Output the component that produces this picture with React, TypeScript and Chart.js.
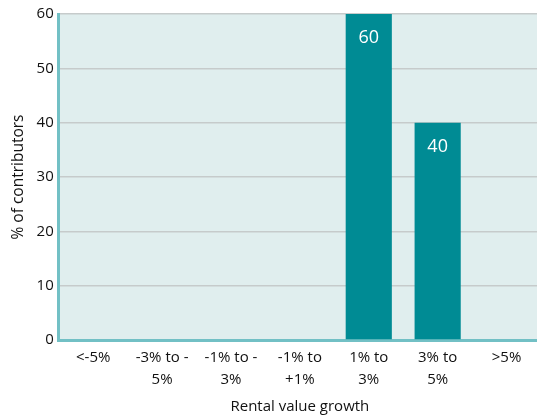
import React, { useEffect, useRef } from "react";
import { Chart, registerables } from "chart.js";

Chart.register(...registerables);

const categories: string[][] = [
  ["<-5%"],
  ["-3% to -", "5%"],
  ["-1% to -", "3%"],
  ["-1% to", "+1%"],
  ["1% to", "3%"],
  ["3% to", "5%"],
  [">5%"],
];
const contributorShare: number[] = [0, 0, 0, 0, 60, 40, 0];
const yTicks: number[] = [0, 10, 20, 30, 40, 50, 60];

const FONT = "'Open Sans', 'Noto Sans', sans-serif";
const BAR = "#008b94";
const PLOT_BG = "#e0eeee";
const AXIS = "#72c0c5";
const GRID = "#c6cbcb";

const plotBackground = {
  id: "plotBackground",
  beforeDraw(chart: any) {
    const { ctx, chartArea } = chart;
    if (!chartArea) return;
    ctx.save();
    ctx.fillStyle = PLOT_BG;
    ctx.fillRect(chartArea.left, chartArea.top, chartArea.right - chartArea.left, chartArea.bottom - chartArea.top);
    ctx.restore();
  },
};

const barValueLabels = {
  id: "barValueLabels",
  afterDatasetsDraw(chart: any) {
    const { ctx } = chart;
    const meta = chart.getDatasetMeta(0);
    const values = chart.data.datasets[0].data as number[];
    ctx.save();
    ctx.fillStyle = "#ffffff";
    ctx.font = `18px ${FONT}`;
    ctx.textAlign = "center";
    ctx.textBaseline = "middle";
    meta.data.forEach((el: any, i: number) => {
      const v = values[i];
      if (!v) return;
      ctx.fillText(String(v), el.x, el.y + 24);
    });
    ctx.restore();
  },
};

export default function App() {
  const ref = useRef<HTMLCanvasElement | null>(null);

  useEffect(() => {
    if (!ref.current) return;
    const chart = new Chart(ref.current, {
      type: "bar",
      data: {
        labels: categories,
        datasets: [
          {
            data: contributorShare,
            backgroundColor: BAR,
            borderWidth: 0,
            barPercentage: 0.67,
            categoryPercentage: 1,
          },
        ],
      },
      options: {
        animation: false,
        responsive: false,
        events: [],
        layout: { padding: { top: 14, right: 0, left: 9, bottom: 0 } },
        plugins: {
          legend: { display: false },
          tooltip: { enabled: false },
        },
        scales: {
          x: {
            grid: { display: false, drawTicks: false },
            border: { display: true, color: AXIS, width: 3 },
            ticks: {
              color: "#111",
              font: { family: FONT, size: 15, lineHeight: 1.5 },
              padding: 6,
              maxRotation: 0,
              autoSkip: false,
            },
            title: {
              display: true,
              text: "Rental value growth",
              color: "#111",
              font: { family: FONT, size: 15 },
              padding: { top: 1, bottom: 0 },
            },
          },
          y: {
            min: 0,
            max: 60,
            afterBuildTicks: (axis: any) => {
              axis.ticks = yTicks.map((v) => ({ value: v }));
            },
            grid: { color: GRID, lineWidth: 1.5, drawTicks: false },
            border: { display: true, color: AXIS, width: 3 },
            ticks: {
              color: "#111",
              font: { family: FONT, size: 15 },
              padding: 5,
            },
            title: {
              display: true,
              text: "% of contributors",
              color: "#111",
              font: { family: FONT, size: 15.5 },
              padding: { top: 0, bottom: 4 },
            },
          },
        },
      },
      plugins: [plotBackground, barValueLabels],
    });
    return () => chart.destroy();
  }, []);

  return (
    <div
      style={{
        position: "fixed",
        left: 0,
        top: 0,
        width: 537,
        height: 416,
        overflow: "hidden",
        background: "#fff",
      }}
    >
      <canvas ref={ref} width={541} height={416} style={{ display: "block" }} />
    </div>
  );
}
